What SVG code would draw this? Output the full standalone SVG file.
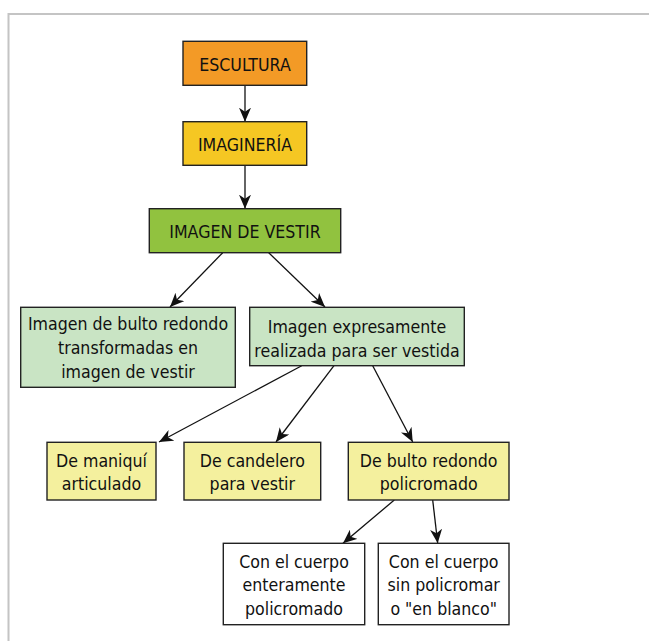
<svg xmlns="http://www.w3.org/2000/svg" width="649" height="641" viewBox="0 0 649 641">
<style>
.box{stroke:#222;stroke-width:1.4}
.t{font-family:"DejaVu Sans Condensed","DejaVu Sans",sans-serif;font-size:17.6px;fill:#111;text-anchor:middle}
.c{stroke:#111;stroke-width:1.3;fill:none;marker-end:url(#arr)}
</style>
<defs>
<marker id="arr" viewBox="0 0 14 12" refX="14" refY="6" markerWidth="14" markerHeight="12" orient="auto" markerUnits="userSpaceOnUse">
<path d="M0,0 L14,6 L0,12 L4,6 z" fill="#111"/>
</marker>
</defs>
<rect x="0" y="0" width="649" height="641" fill="#fff"/>
<path d="M8.5,641 V14 H649" fill="none" stroke="#c4c4c4" stroke-width="2"/>
<g id="connectors">
<line class="c" x1="245" y1="85.3" x2="245" y2="121.7"/>
<line class="c" x1="245" y1="165.3" x2="245" y2="208.7"/>
<line class="c" x1="222.7" y1="252.7" x2="170" y2="307"/>
<line class="c" x1="268.7" y1="252.7" x2="325" y2="307"/>
<line class="c" x1="301.7" y1="365.7" x2="159" y2="442"/>
<line class="c" x1="334" y1="365.7" x2="276" y2="442"/>
<line class="c" x1="372.7" y1="365.7" x2="412.7" y2="442"/>
<line class="c" x1="394.3" y1="500" x2="343" y2="543.3"/>
<line class="c" x1="432.7" y1="500" x2="437.7" y2="543.3"/>
</g>
<g id="escultura">
<rect class="box" x="183" y="41.3" width="123.7" height="44" fill="#F39A26"/>
<text class="t" x="245" y="71">ESCULTURA</text>
</g>
<g id="imagineria">
<rect class="box" x="183" y="121.7" width="123.7" height="43.6" fill="#F5C723"/>
<text class="t" x="245" y="150.5">IMAGINERÍA</text>
</g>
<g id="imagen-vestir">
<rect class="box" x="149.3" y="208.7" width="191.4" height="44" fill="#91C23F"/>
<text class="t" x="245" y="238">IMAGEN DE VESTIR</text>
</g>
<g id="bulto-transformadas">
<rect class="box" x="20.7" y="307.3" width="214.6" height="80" fill="#C9E4C4"/>
<text class="t" x="128" y="330">Imagen de bulto redondo</text>
<text class="t" x="128" y="354">transformadas en</text>
<text class="t" x="128" y="378">imagen de vestir</text>
</g>
<g id="expresamente">
<rect class="box" x="249.7" y="307.3" width="214.6" height="58.4" fill="#C9E4C4"/>
<text class="t" x="357" y="332.5">Imagen expresamente</text>
<text class="t" x="357" y="356.5">realizada para ser vestida</text>
</g>
<g id="maniqui">
<rect class="box" x="47" y="442.3" width="109" height="57.7" fill="#F4F09E"/>
<text class="t" x="101.5" y="466.5">De maniquí</text>
<text class="t" x="101.5" y="490">articulado</text>
</g>
<g id="candelero">
<rect class="box" x="184" y="442.3" width="136.7" height="57.7" fill="#F4F09E"/>
<text class="t" x="252.3" y="466.5">De candelero</text>
<text class="t" x="252.3" y="490">para vestir</text>
</g>
<g id="bulto-policromado">
<rect class="box" x="348.3" y="442.3" width="160.7" height="57.7" fill="#F4F09E"/>
<text class="t" x="428.7" y="466.5">De bulto redondo</text>
<text class="t" x="428.7" y="490">policromado</text>
</g>
<g id="enteramente">
<rect class="box" x="223.3" y="543.3" width="141.4" height="81.4" fill="#fff"/>
<text class="t" x="294" y="567.5">Con el cuerpo</text>
<text class="t" x="294" y="591">enteramente</text>
<text class="t" x="294" y="615">policromado</text>
</g>
<g id="en-blanco">
<rect class="box" x="378.3" y="543.3" width="130.7" height="81.4" fill="#fff"/>
<text class="t" x="443.7" y="567.5">Con el cuerpo</text>
<text class="t" x="443.7" y="591">sin policromar</text>
<text class="t" x="443.7" y="615">o "en blanco"</text>
</g>
</svg>
